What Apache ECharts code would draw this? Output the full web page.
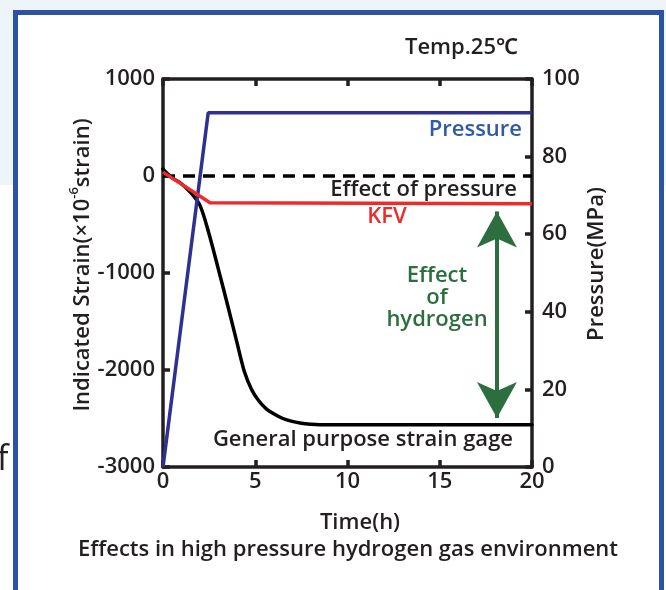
<!DOCTYPE html>
<html>
<head>
<meta charset="utf-8">
<script src="https://cdn.jsdelivr.net/npm/echarts@6/dist/echarts.min.js"></script>
<style>
html,body{margin:0;padding:0;width:666px;height:590px;overflow:hidden;background:#ffffff;}
#bgTop{position:absolute;left:0;top:0;width:666px;height:185px;background:#eef5f8;}
#frame{position:absolute;left:13px;top:10px;width:641px;height:590px;border:5px solid #2b52a3;border-bottom:none;background:#ffffff;}
#chart{position:absolute;left:0;top:0;width:666px;height:590px;}
</style>
</head>
<body>
<div id="bgTop"></div>
<div id="frame"></div>
<div id="chart"></div>
<script>
// ---- data ----
const xTicks = [0, 5, 10, 15, 20];
const strainTicks = [-3000, -2000, -1000, 0, 1000];
const pressureTicks = [0, 20, 40, 60, 80, 100];

const pressureTime = [0, 2.45, 20];
const pressureMPa = [0, 91.3, 91.3];

const zeroTime = [0, 20];
const zeroStrain = [0, 0];

const kfvTime = [0, 2.55, 20];
const kfvStrain = [40, -275, -285];

const gageTime = [0, 0.5, 1.0, 1.5, 2.0, 2.5, 3.0, 3.5, 4.0, 4.4, 4.8, 5.2, 5.6, 6.0, 6.5, 7.0, 7.5, 8.0, 8.5, 20];
const gageStrain = [70, -20, -80, -170, -300, -600, -960, -1330, -1710, -2010, -2200, -2320, -2400, -2450, -2500, -2530, -2550, -2560, -2565, -2565];

const arrowTime = [18.1, 18.1];
const arrowStrain = [-365, -2495];

// ---- helpers ----
const zip = (a, b) => a.map((v, i) => [v, b[i]]);
const FONT = '"Open Sans", "Noto Sans", sans-serif';
const INK = '#231f20';
const GREEN = '#2d6e3e';
const FS = 22;

const chart = echarts.init(document.getElementById('chart'), null, {renderer: 'canvas'});

const axisCommon = {
  axisLine: {show: true, onZero: false, lineStyle: {color: INK, width: 3.5}},
  axisTick: {show: true, inside: true, length: 7, lineStyle: {color: INK, width: 3.5}},
  splitLine: {show: false},
  axisLabel: {color: INK, fontSize: FS, fontWeight: 600, fontFamily: FONT, formatter: v => String(v)}
};

const option = {
  animation: false,
  backgroundColor: 'transparent',
  grid: {left: 163, top: 79, right: 134, bottom: 123, containLabel: false},
  xAxis: [
    Object.assign({}, axisCommon, {
      type: 'value', position: 'bottom', min: xTicks[0], max: xTicks[xTicks.length - 1], interval: 5,
      axisLabel: Object.assign({}, axisCommon.axisLabel, {margin: 4})
    }),
    Object.assign({}, axisCommon, {
      type: 'value', position: 'top', min: xTicks[0], max: xTicks[xTicks.length - 1], interval: 5,
      axisLabel: {show: false}
    })
  ],
  yAxis: [
    Object.assign({}, axisCommon, {
      type: 'value', position: 'left', min: strainTicks[0], max: strainTicks[strainTicks.length - 1], interval: 1000,
      axisLabel: Object.assign({}, axisCommon.axisLabel, {margin: 8})
    }),
    Object.assign({}, axisCommon, {
      type: 'value', position: 'right', min: pressureTicks[0], max: pressureTicks[pressureTicks.length - 1], interval: 20,
      axisLabel: Object.assign({}, axisCommon.axisLabel, {margin: 10})
    })
  ],
  series: [
    {
      name: 'Pressure', type: 'line', xAxisIndex: 0, yAxisIndex: 1,
      data: zip(pressureTime, pressureMPa), symbol: 'none',
      lineStyle: {color: '#2e3192', width: 3.5}, z: 3
    },
    {
      name: 'Zero', type: 'line', xAxisIndex: 0, yAxisIndex: 0,
      data: zip(zeroTime, zeroStrain), symbol: 'none',
      lineStyle: {color: '#000000', width: 3.5, type: [12, 8]}, z: 2
    },
    {
      name: 'General purpose strain gage', type: 'line', xAxisIndex: 0, yAxisIndex: 0,
      data: zip(gageTime, gageStrain), symbol: 'none', smooth: 0.3,
      lineStyle: {color: '#000000', width: 3.5, cap: 'round', join: 'round'}, z: 2
    },
    {
      name: 'KFV', type: 'line', xAxisIndex: 0, yAxisIndex: 0,
      data: zip(kfvTime, kfvStrain), symbol: 'none',
      lineStyle: {color: '#ee2a2a', width: 3.5, join: 'round'}, z: 4
    },
    {
      name: 'Effect of hydrogen', type: 'line', xAxisIndex: 0, yAxisIndex: 0,
      data: [], symbol: 'none',
      markLine: {
        silent: true, animation: false,
        symbol: ['arrow', 'arrow'], symbolSize: [30, 36],
        label: {show: false},
        lineStyle: {color: GREEN, width: 4, type: 'solid'},
        itemStyle: {color: GREEN},
        emphasis: {disabled: true},
        data: [[{coord: [arrowTime[0], arrowStrain[0]]}, {coord: [arrowTime[1], arrowStrain[1]]}]]
      }
    }
  ],
  graphic: [
    {type: 'text', x: 518, y: 48, style: {text: 'Temp.25℃', fill: INK, font: '600 ' + FS + 'px ' + FONT, align: 'right', verticalAlign: 'middle'}},
    {type: 'text', x: 522, y: 130, style: {text: 'Pressure', fill: '#2f5aa8', font: '600 ' + FS + 'px ' + FONT, align: 'right', verticalAlign: 'middle'}},
    {type: 'text', x: 517, y: 190, style: {text: 'Effect of pressure', fill: INK, font: '600 ' + FS + 'px ' + FONT, align: 'right', verticalAlign: 'middle'}},
    {type: 'text', x: 387, y: 217, style: {text: 'KFV', fill: '#ee2a2a', font: '600 ' + FS + 'px ' + FONT, align: 'center', verticalAlign: 'middle'}},
    {type: 'text', x: 437, y: 276, style: {text: 'Effect', fill: GREEN, font: '600 ' + FS + 'px ' + FONT, align: 'center', verticalAlign: 'middle'}},
    {type: 'text', x: 437, y: 298, style: {text: 'of', fill: GREEN, font: '600 ' + FS + 'px ' + FONT, align: 'center', verticalAlign: 'middle'}},
    {type: 'text', x: 437, y: 320, style: {text: 'hydrogen', fill: GREEN, font: '600 ' + FS + 'px ' + FONT, align: 'center', verticalAlign: 'middle'}},
    {type: 'text', x: 513, y: 440, style: {text: 'General purpose strain gage', fill: INK, font: '600 ' + FS + 'px ' + FONT, align: 'right', verticalAlign: 'middle'}},
    {type: 'text', x: 360, y: 523, style: {text: 'Time(h)', fill: INK, font: '600 ' + FS + 'px ' + FONT, align: 'center', verticalAlign: 'middle'}},
    {type: 'text', x: 348, y: 550, style: {text: 'Effects in high pressure hydrogen gas environment', fill: INK, font: '600 ' + FS + 'px ' + FONT, align: 'center', verticalAlign: 'middle'}},
    {type: 'text', x: 597, y: 264, rotation: Math.PI / 2, style: {text: 'Pressure(MPa)', fill: INK, font: '600 ' + FS + 'px ' + FONT, align: 'center', verticalAlign: 'middle'}},
    {type: 'text', x: 81, y: 265, rotation: Math.PI / 2, style: {
      text: '{a|Indicated Strain(×10}{s|-6}{a|strain)}',
      align: 'center', verticalAlign: 'middle',
      rich: {
        a: {fill: INK, fontSize: FS, fontWeight: 600, fontFamily: FONT, lineHeight: 26, verticalAlign: 'bottom'},
        s: {fill: INK, fontSize: 13, fontWeight: 600, fontFamily: FONT, lineHeight: 26, verticalAlign: 'top', padding: [0, 0, 10, 0]}
      }
    }},
    {type: 'text', x: -3, y: 460, style: {text: 'f', fill: INK, font: '400 34px ' + FONT, align: 'left', verticalAlign: 'middle'}}
  ]
};

chart.setOption(option);
</script>
</body>
</html>
